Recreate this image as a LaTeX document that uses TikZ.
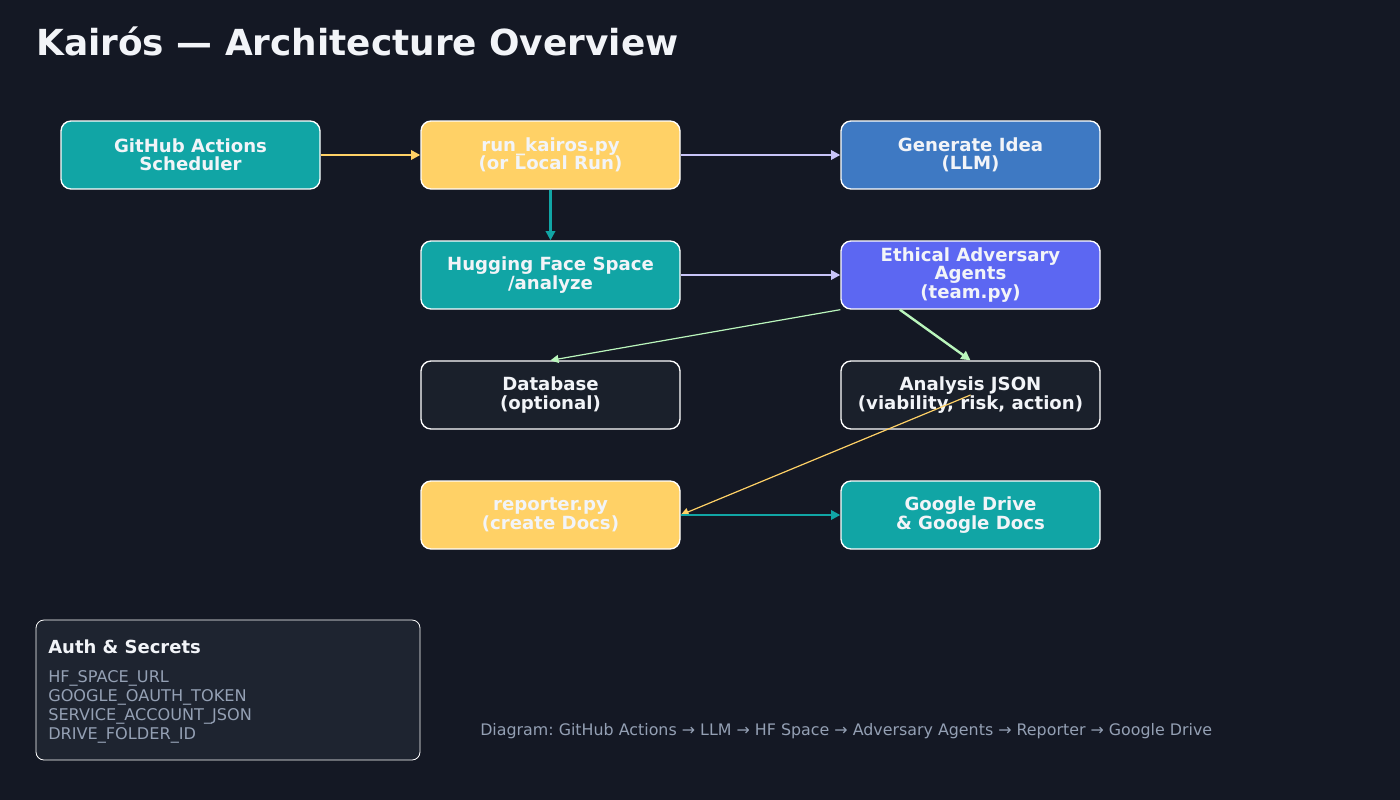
\documentclass[tikz,border=0pt]{standalone}
\usepackage{fontspec}
\setmainfont{DejaVu Sans}
\usetikzlibrary{calc, positioning, arrows.meta}
\definecolor{kbg}{HTML}{141824}
\definecolor{kteal}{HTML}{11A5A5}
\definecolor{kyellow}{HTML}{FFD166}
\definecolor{kblue}{HTML}{3E79C3}
\definecolor{kindigo}{HTML}{5C67F2}
\definecolor{kdark}{HTML}{1A202B}
\definecolor{kpanel}{HTML}{1E2430}
\definecolor{klav}{HTML}{C8C4F8}
\definecolor{kgreen}{HTML}{BAF6BC}
\definecolor{kgray}{HTML}{94A0B4}
\definecolor{kwhite}{HTML}{F2F4F8}
\frenchspacing
\tikzset{
	box/.style = {fill=#1, draw=white, line width=1pt, rounded corners=7.5pt, minimum width=194.25pt, minimum height=51pt, align=center, text=kwhite, font=\bfseries\fontsize{13.6}{13.8}\selectfont},
	flow/.style = {draw=#1, line width=1.8pt, -{Triangle[length=7pt, width=7pt]}},
	faint/.style = {line width=0.9pt, -{Triangle[length=6pt, width=6pt]}},
	hint/.style = {text=kgray, font=\fontsize{12.1}{14}\selectfont, inner sep=0pt},
}

\begin{document}
\begin{tikzpicture}[x=0.75pt, y=-0.75pt]
			\useasboundingbox (0,0) rectangle (1400,800);
			\fill[kbg] (0,0) rectangle (1400,800);
			\node[anchor=base west, inner sep=0pt, text=kwhite, font=\bfseries\fontsize{26.9}{30}\selectfont] (title) at (36,55) {Kairós — Architecture Overview};
			\node[box=kteal]   (gha) at (190.5,155) {GitHub Actions\\Scheduler};
			\node[box=kyellow] (run) at (550.5,155) {run\_kairos.py\\(or Local Run)};
			\node[box=kblue]   (idea) at (970.5,155) {Generate Idea\\(LLM)};
			\node[box=kteal]   (hf) at (550.5,275) {Hugging Face Space\\/analyze};
			\node[box=kindigo] (eth) at (970.5,275) {Ethical Adversary\\Agents\\(team.py)};
			\node[box=kdark]   (db) at (550.5,395) {Database\\(optional)};
			\node[box=kdark]   (json) at (970.5,395) {Analysis JSON\\(viability, risk, action)};
			\node[box=kyellow] (rep) at (550.5,515) {reporter.py\\(create Docs)};
			\node[box=kteal]   (drive) at (970.5,515) {Google Drive\\\& Google Docs};
			\draw[flow=kyellow] (gha) -- (run);
			\draw[flow=klav] (run) -- (idea);
			\draw[flow=kteal] (run) -- (hf);
			\draw[flow=klav] (hf) -- (eth);
			\draw[flow=kgreen, faint] (eth.south west) -- (db.north);
			\draw[flow=kgreen] ([xshift=-53pt]eth.south) -- (json.north);
			\draw[flow=kyellow, faint] (json.center) -- (rep.east);
			\draw[flow=kteal] (rep) -- (drive);
			\node[fill=kpanel, draw=white, line width=0.6pt, rounded corners=6pt, minimum width=288pt, minimum height=105pt] (auth) at (228,690) {};
			\node[anchor=base west, inner sep=0pt, text=kwhite, font=\bfseries\fontsize{13.5}{15}\selectfont] (authtitle) at (48,653) {Auth \& Secrets};
			\foreach \key [count=\i] in {HF\_SPACE\_URL, GOOGLE\_OAUTH\_TOKEN, SERVICE\_ACCOUNT\_JSON, DRIVE\_FOLDER\_ID}
				\node[hint, anchor=base west] (key\i) at (48,{682+19*(\i-1)}) {\key};
			\node[hint, anchor=base west, font=\fontsize{11.9}{14}\selectfont] (caption) at (480,735) {Diagram: GitHub Actions → LLM → HF Space → Adversary Agents → Reporter → Google Drive};
		\end{tikzpicture}
\end{document}
